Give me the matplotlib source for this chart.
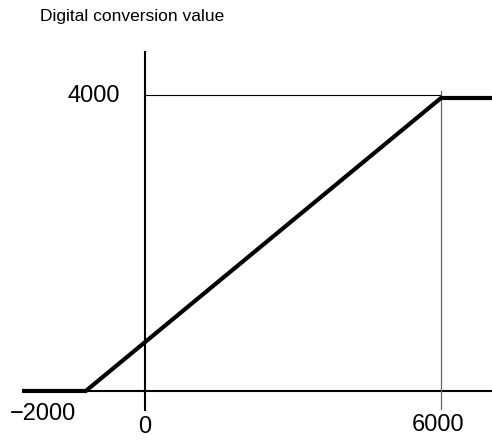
import matplotlib
matplotlib.use("Agg")
from matplotlib import pyplot as plt

plt.rcParams['font.family'] = ['Liberation Sans', 'DejaVu Sans']

# analog input vs digital conversion value (schematic)
x_in = [-2450, -1200, 6000, 7100]
y_out = [0, 0, 4000, 4000]

x_ticks = [-2000, 0, 6000]
x_labels = ["\u22122000", "0", "6000"]
y_max_label = 4000

fig = plt.figure(figsize=(4.92, 4.41), dpi=100)
ax = fig.add_axes([0, 0, 1, 1])
ax.set_xlim(-2939, 7034)
ax.set_ylim(-683, 5338)
ax.axis('off')

# axes
ax.plot([-2493, 7100], [0, 0], color='black', lw=1.5, solid_capstyle='butt')
ax.plot([0, 0], [-280, 4640], color='black', lw=1.5, solid_capstyle='butt')

# guide lines for the 6000 / 4000 point
ax.plot([0, 6000], [4040, 4040], color='black', lw=0.8)
ax.plot([6000, 6000], [-240, 4090], color='#666666', lw=0.9)

# conversion characteristic
ax.plot(x_in, y_out, color='black', lw=3, solid_joinstyle='miter')

ax.text(-1034, y_max_label + 30, str(y_max_label), ha='center', va='center', fontsize=17)
ax.text(-2068, -314, x_labels[0], ha='center', va='center', fontsize=17)
ax.text(x_ticks[1], -491, x_labels[1], ha='center', va='center', fontsize=17)
ax.text(x_ticks[2] - 60, -464, x_labels[2], ha='center', va='center', fontsize=17)

ax.text(-2128, 5119, "Digital conversion value", ha='left', va='center', fontsize=12.5)

fig.savefig("out.png", dpi=100)
